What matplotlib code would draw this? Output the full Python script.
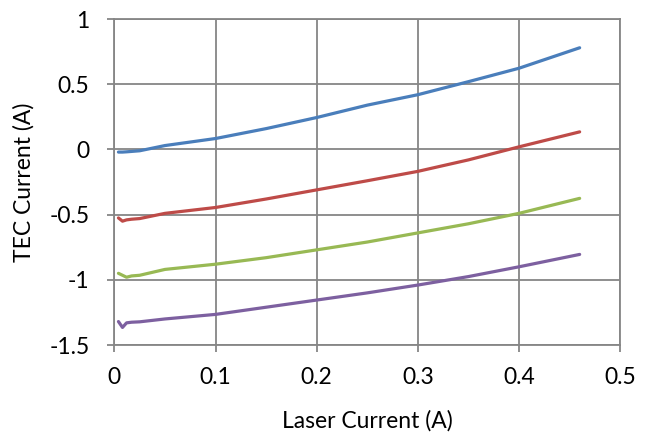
import matplotlib
matplotlib.use("Agg")
import matplotlib.pyplot as plt

# laser current (A)
x = [0.004, 0.008, 0.012, 0.017, 0.025, 0.05, 0.1, 0.15, 0.2, 0.25, 0.3, 0.35, 0.4, 0.46]

# TEC current (A), one list per curve
tec_blue = [-0.02, -0.02, -0.018, -0.015, -0.01, 0.03, 0.084, 0.16, 0.245, 0.34, 0.42, 0.52, 0.623, 0.78]
tec_red = [-0.525, -0.55, -0.54, -0.535, -0.53, -0.49, -0.445, -0.38, -0.31, -0.24, -0.168, -0.08, 0.02, 0.135]
tec_green = [-0.95, -0.965, -0.98, -0.97, -0.965, -0.92, -0.88, -0.83, -0.77, -0.71, -0.64, -0.57, -0.49, -0.375]
tec_purple = [-1.32, -1.365, -1.33, -1.325, -1.322, -1.30, -1.265, -1.21, -1.155, -1.10, -1.04, -0.975, -0.90, -0.805]

plt.rcParams['font.family'] = ['Lato', 'DejaVu Sans']

fig = plt.figure(figsize=(6.5, 4.34), dpi=100)
ax = fig.add_axes([0.176, 0.205, 0.778, 0.751])

lw = 2.3
ax.plot(x, tec_blue, color='#4A7EBB', lw=lw, solid_capstyle='round')
ax.plot(x, tec_red, color='#BE4B48', lw=lw, solid_capstyle='round')
ax.plot(x, tec_green, color='#98B954', lw=lw, solid_capstyle='round')
ax.plot(x, tec_purple, color='#7D60A0', lw=lw, solid_capstyle='round')

ax.set_xlim(0, 0.5)
ax.set_ylim(-1.5, 1)
ax.set_xticks([0, 0.1, 0.2, 0.3, 0.4, 0.5])
ax.set_xticklabels(['0', '0.1', '0.2', '0.3', '0.4', '0.5'])
ax.set_yticks([-1.5, -1, -0.5, 0, 0.5, 1])
ax.set_yticklabels(['-1.5', '-1', '-0.5', '0', '0.5', '1'])

ax.grid(True, color='#868686', lw=1.3)
ax.set_axisbelow(True)
for s in ax.spines.values():
    s.set_color('#868686')
    s.set_linewidth(1.3)
ax.tick_params(colors='#868686', labelcolor='black', labelsize=16.5, length=5, width=1.3)
ax.tick_params(axis='x', pad=11)
ax.tick_params(axis='y', pad=13)

ax.set_xlabel('Laser Current (A)', fontsize=16.5)
ax.set_ylabel('TEC Current (A)', fontsize=16.5)
ax.xaxis.set_label_coords(0.5, -0.2)
ax.yaxis.set_label_coords(-0.158, 0.5)

fig.savefig('out.png', dpi=100)
